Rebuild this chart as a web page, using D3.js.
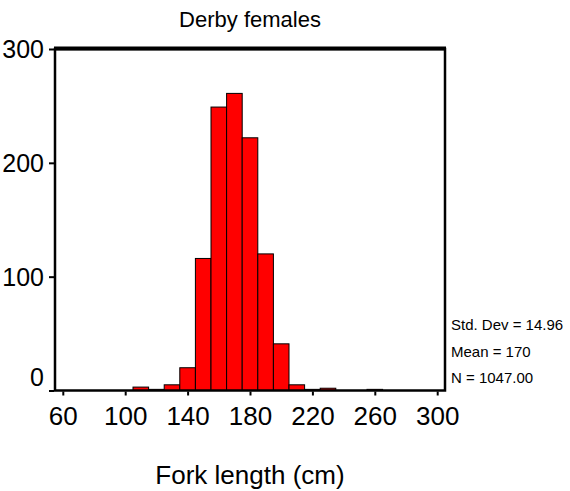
<!DOCTYPE html>
<html>
<head>
<meta charset="utf-8">
<script src="https://cdn.jsdelivr.net/npm/d3@7"></script>
<style>
  body { margin: 0; background: #fff; }
  text { font-family: "Liberation Sans", Arial, sans-serif; fill: #000; }
</style>
</head>
<body>
<script>
'use strict';

// histogram bins (centre of each 10 cm bin) and counts
const binCentres = [60, 70, 80, 90, 100, 110, 120, 130, 140, 150, 160, 170, 180,
                    190, 200, 210, 220, 230, 240, 250, 260, 270, 280, 290, 300];
const counts     = [0, 0, 0, 0, 0, 3, 1, 5, 20, 116, 249, 261, 222,
                    120, 41, 5, 1, 2, 0, 0, 1, 0, 0, 0, 0];
const binWidth = 10;
const xTicks = [60, 100, 140, 180, 220, 260, 300];
const yTicks = [0, 100, 200, 300];
const statLines = ["Std. Dev = 14.96", "Mean = 170", "N = 1047.00"];

const svg = d3.select('body').append('svg')
  .attr('width', 570)
  .attr('height', 491);

// scales
const xScale = d3.scaleLinear().domain([55, 305]).range([55, 445]);
const yScale = d3.scaleLinear().domain([0, 300]).range([390.5, 49]);

// bars
svg.selectAll('.bar')
  .data(binCentres.map((c, i) => ({ c: c, n: counts[i] })).filter(d => d.n > 0))
  .enter()
  .append('rect')
  .attr('class', 'bar')
  .attr('x', d => xScale(d.c - binWidth / 2))
  .attr('y', d => yScale(d.n))
  .attr('width', d => xScale(d.c + binWidth / 2) - xScale(d.c - binWidth / 2))
  .attr('height', d => yScale(0) - yScale(d.n))
  .attr('fill', '#ff0000')
  .attr('stroke', '#000')
  .attr('stroke-width', 1);

// frame round the plot
svg.append('rect')
  .attr('x', xScale(55))
  .attr('y', yScale(300))
  .attr('width', xScale(305) - xScale(55))
  .attr('height', yScale(0) - yScale(300))
  .attr('fill', 'none')
  .attr('stroke', '#000')
  .attr('stroke-width', 2.5);
svg.append('line')
  .attr('x1', xScale(55) - 1)
  .attr('x2', xScale(305) + 1)
  .attr('y1', yScale(300) - 0.5)
  .attr('y2', yScale(300) - 0.5)
  .attr('stroke', '#000')
  .attr('stroke-width', 4);

// x axis
const xAxis = svg.append('g')
  .attr('transform', 'translate(0,' + (yScale(0) + 1) + ')')
  .call(d3.axisBottom(xScale).tickValues(xTicks).tickSize(4).tickSizeOuter(0));
xAxis.select('.domain').remove();
xAxis.selectAll('.tick line').attr('stroke', '#000').attr('stroke-width', 2);
xAxis.selectAll('.tick text')
  .attr('y', 0)
  .attr('dy', 0)
  .attr('transform', 'translate(0,33)')
  .style('font-size', '26px')
  .style('font-family', '"Liberation Sans", Arial, sans-serif');

// y axis
const yAxis = svg.append('g')
  .attr('transform', 'translate(' + (xScale(55) - 1) + ',0)')
  .call(d3.axisLeft(yScale).tickValues(yTicks).tickSize(5).tickSizeOuter(0));
yAxis.select('.domain').remove();
yAxis.selectAll('.tick line').attr('stroke', '#000').attr('stroke-width', 2);
yAxis.selectAll('.tick text')
  .attr('x', -10)
  .attr('dy', d => d === 0 ? '-0.2em' : '0.35em')
  .style('font-size', '25px')
  .style('font-family', '"Liberation Sans", Arial, sans-serif');

// title and axis label
svg.append('text')
  .attr('x', 250)
  .attr('y', 27)
  .attr('text-anchor', 'middle')
  .style('font-size', '22px')
  .text('Derby females');

svg.append('text')
  .attr('x', 250)
  .attr('y', 484)
  .attr('text-anchor', 'middle')
  .style('font-size', '26px')
  .text('Fork length (cm)');

// summary statistics beside the plot
svg.selectAll('.stat')
  .data(statLines)
  .enter()
  .append('text')
  .attr('class', 'stat')
  .attr('x', 451)
  .attr('y', (d, i) => 330 + i * 26.7)
  .style('font-size', '15px')
  .text(d => d);
</script>
</body>
</html>
